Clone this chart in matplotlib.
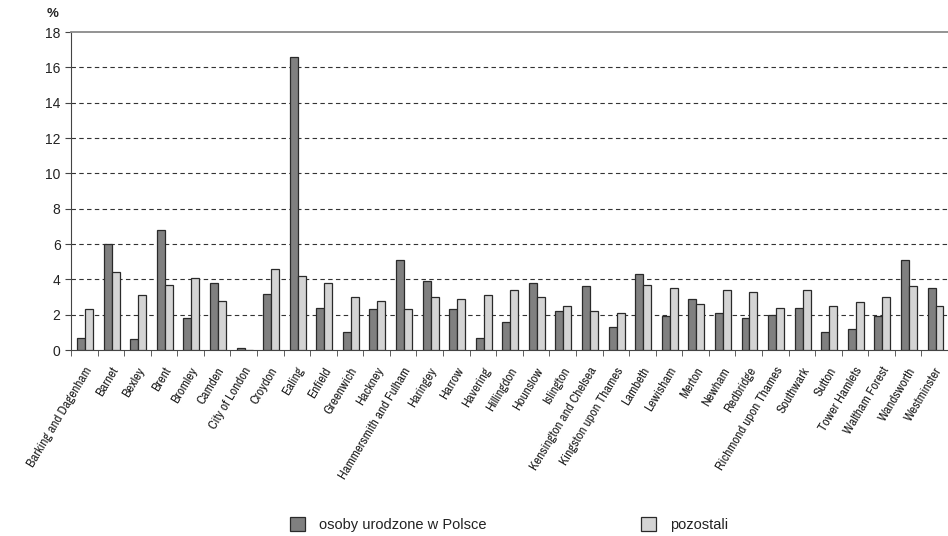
import numpy as np
import matplotlib
matplotlib.use("Agg")
import matplotlib.pyplot as plt
from matplotlib.patches import Patch
from matplotlib import font_manager

boroughs = [
    "Barking and Dagenham", "Barnet", "Bexley", "Brent", "Bromley", "Camden",
    "City of London", "Croydon", "Ealing", "Enfield", "Greenwich", "Hackney",
    "Hammersmith and Fulham", "Haringey", "Harrow", "Havering", "Hillingdon",
    "Hounslow", "Islington", "Kensington and Chelsea", "Kingston upon Thames",
    "Lambeth", "Lewisham", "Merton", "Newham", "Redbridge",
    "Richmond upon Thames", "Southwark", "Sutton", "Tower Hamlets",
    "Waltham Forest", "Wandsworth", "Westminster",
]
polish_born = [0.7, 6.0, 0.6, 6.8, 1.8, 3.8, 0.1, 3.2, 16.6, 2.4, 1.0, 2.3,
               5.1, 3.9, 2.3, 0.7, 1.6, 3.8, 2.2, 3.6, 1.3, 4.3, 1.9, 2.9,
               2.1, 1.8, 2.0, 2.4, 1.0, 1.2, 1.9, 5.1, 3.5]
others = [2.3, 4.4, 3.1, 3.7, 4.1, 2.8, 0.0, 4.6, 4.2, 3.8, 3.0, 2.8,
          2.3, 3.0, 2.9, 3.1, 3.4, 3.0, 2.5, 2.2, 2.1, 3.7, 3.5, 2.6,
          3.4, 3.3, 2.4, 3.4, 2.5, 2.7, 3.0, 3.6, 2.5]
series_names = ["osoby urodzone w Polsce", "pozostali"]

# look for a narrow face for the rotated borough names
narrow = None
for f in font_manager.fontManager.ttflist:
    if "Narrow" in f.name or "Condensed" in f.name:
        narrow = f.name
        break
plt.rcParams["font.family"] = ["Liberation Sans", "DejaVu Sans"]

fig = plt.figure(figsize=(9.48, 5.36), dpi=100)
ax = fig.add_axes([0.0749, 0.347, 0.9251, 0.593])

x = np.arange(len(boroughs))
w = 0.30
dark, light = "#808080", "#d4d4d4"
ax.bar(x - w / 2 + 0.03, polish_born, w, color=dark, edgecolor="#2a2a2a", linewidth=0.9, zorder=3)
ax.bar(x + w / 2 + 0.03, others, w, color=light, edgecolor="#2a2a2a", linewidth=0.9, zorder=3)

ax.set_xlim(-0.5, len(boroughs) - 0.5)
ax.set_ylim(0, 18)
ax.set_yticks(range(0, 19, 2))
for v in range(2, 18, 2):
    ax.axhline(v, color="#333333", linestyle=(0, (4, 3)), linewidth=0.8, zorder=1)

ax.spines["right"].set_visible(False)
ax.spines["top"].set_color("#8a8a8a")
ax.spines["top"].set_linewidth(1.3)
ax.spines["left"].set_color("#444444")
ax.spines["bottom"].set_color("#444444")

ax.set_xticks(x)
if narrow:
    ax.set_xticklabels(boroughs, rotation=59, ha="right", rotation_mode="anchor",
                       fontsize=9.5, family=[narrow, "DejaVu Sans"], color="#222222")
else:
    ax.set_xticklabels(boroughs, rotation=59, ha="right", rotation_mode="anchor",
                       fontsize=8, color="#222222")
ax.tick_params(axis="x", length=0, pad=11)
ax.set_xticks(np.arange(-0.5, len(boroughs), 1), minor=True)
ax.tick_params(axis="x", which="minor", length=4, color="#444444")
ax.tick_params(axis="y", length=4, color="#444444", labelsize=10, labelcolor="#222222")

fig.text(0.049, 0.973, "%", fontsize=9.5, ha="left", va="center", color="#222222",
         fontweight="bold")

handles = [Patch(facecolor=dark, edgecolor="#2a2a2a", linewidth=0.9),
           Patch(facecolor=light, edgecolor="#2a2a2a", linewidth=0.9)]
fig.legend(handles, series_names, loc="center", bbox_to_anchor=(0.537, 0.021), ncol=2,
           frameon=False, fontsize=10.5, handlelength=1.03, handleheight=1.03,
           handletextpad=0.96, columnspacing=10.6, labelcolor="#222222")

fig.savefig("out.png", dpi=100)
